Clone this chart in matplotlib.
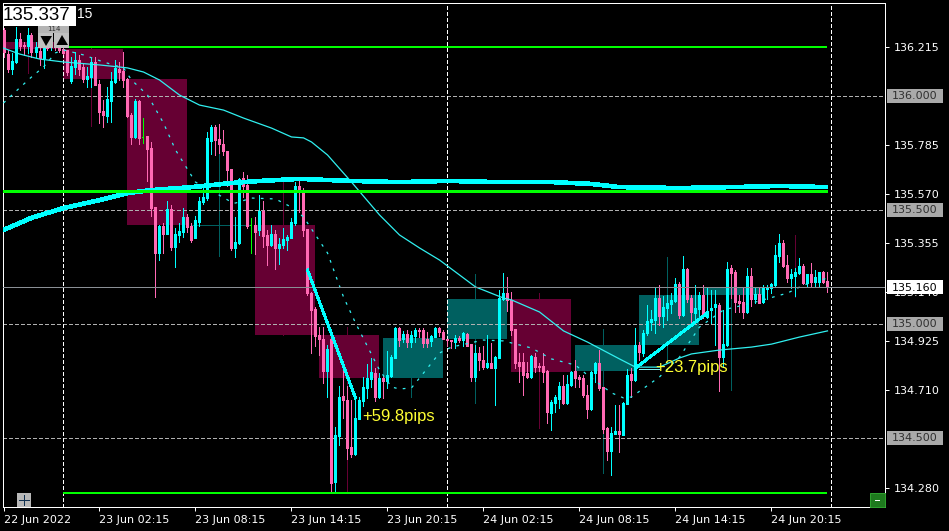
import numpy as np
import matplotlib
matplotlib.use('Agg')
import matplotlib.pyplot as plt
from matplotlib.patches import Rectangle, Polygon

W, H = 949, 531
# caja del grafico en pixeles
LEFT, RIGHT, TOP, BOTTOM = 3, 885, 3, 507

# velas M15, la primera es k=-15, filas de 10 velas
opens = [136.289,136.184,136.119,136.149,136.250,136.223,136.219,136.267,136.193,136.197,
 136.167,136.236,136.219,136.259,136.228,136.206,136.202,136.065,136.127,136.158,
 136.127,136.074,136.083,136.149,136.052,135.934,135.912,135.978,136.061,136.119,
 136.110,136.074,135.916,135.820,135.978,135.820,135.825,135.772,135.512,135.311,
 135.429,135.394,135.504,135.337,135.390,135.403,135.469,135.429,135.377,135.447,
 135.534,135.552,135.802,135.863,135.811,135.789,135.758,135.679,135.333,135.355,
 135.640,135.609,135.434,135.434,135.412,135.495,135.390,135.346,135.394,135.333,
 135.346,135.368,135.377,135.443,135.605,135.587,135.416,135.135,135.065,134.951,
 134.933,134.793,134.933,134.306,134.508,134.683,134.666,134.459,134.429,134.583,
 134.662,134.719,134.758,134.784,134.679,134.763,134.750,134.771,134.850,134.982,
 134.933,134.956,134.920,134.947,134.973,134.973,134.933,134.925,134.942,134.982,
 134.964,134.933,134.929,134.920,134.938,134.929,134.956,134.911,134.767,134.872,
 134.841,134.810,134.828,134.806,134.850,135.109,135.135,135.105,134.977,134.832,
 134.832,134.784,134.767,134.854,134.815,134.815,134.793,134.609,134.653,134.671,
 134.727,134.653,134.732,134.793,134.767,134.763,134.688,134.626,134.784,134.828,
 134.723,134.543,134.442,134.517,134.530,134.512,134.648,134.780,134.754,134.907,
 134.872,134.960,135.008,135.017,135.113,135.034,135.070,135.087,135.100,135.175,
 135.039,135.241,135.113,135.048,135.065,135.127,135.030,135.061,135.074,135.083,
 134.854,134.907,135.245,135.227,135.100,135.096,135.052,135.210,135.109,135.131,
 135.096,135.153,135.157,135.170,135.298,135.355,135.258,135.201,135.210,135.223,
 135.254,135.179,135.219,135.184,135.184,135.227,135.188]
highs = [136.298,136.202,136.189,136.302,136.276,136.236,136.298,136.276,136.236,136.215,
 136.276,136.267,136.259,136.280,136.245,136.210,136.202,136.171,136.193,136.180,
 136.145,136.127,136.167,136.171,136.070,135.982,136.039,136.105,136.158,136.149,
 136.193,136.079,135.925,135.987,135.982,135.903,135.825,135.798,135.512,135.434,
 135.443,135.539,135.521,135.421,135.443,135.508,135.482,135.443,135.473,135.556,
 135.600,135.842,135.872,135.872,135.876,135.851,135.758,135.679,135.469,135.640,
 135.666,135.653,135.465,135.469,135.565,135.539,135.412,135.434,135.412,135.377,
 135.421,135.390,135.465,135.622,135.644,135.596,135.416,135.140,135.074,134.986,
 134.986,134.907,134.933,134.547,134.727,134.828,134.727,134.666,134.666,134.679,
 134.767,134.824,134.850,134.806,134.784,134.775,134.881,134.863,134.986,134.986,
 134.969,134.973,134.969,134.982,134.982,134.982,134.964,134.951,134.986,134.986,
 134.973,134.933,134.929,134.951,134.947,134.964,134.960,134.911,134.907,134.898,
 134.903,134.951,134.916,134.859,135.148,135.223,135.205,135.140,134.977,134.872,
 134.872,134.832,134.863,134.872,134.828,134.872,134.797,134.666,134.688,134.745,
 134.775,134.775,134.793,134.841,134.775,134.775,134.732,134.793,134.832,134.885,
 134.723,134.547,134.547,134.644,134.644,134.657,134.802,134.806,134.982,134.920,
 134.973,135.083,135.061,135.162,135.170,135.122,135.127,135.135,135.201,135.184,
 135.298,135.245,135.127,135.170,135.140,135.170,135.162,135.148,135.148,135.091,
 135.061,135.271,135.258,135.236,135.127,135.162,135.245,135.245,135.162,135.162,
 135.170,135.170,135.179,135.346,135.394,135.368,135.302,135.241,135.245,135.289,
 135.263,135.219,135.267,135.236,135.227,135.232,135.227]
lows = [136.171,136.105,136.096,136.145,136.202,136.180,136.189,136.171,136.171,136.136,
 136.123,136.202,136.202,136.202,136.193,136.184,136.092,136.057,136.096,136.092,
 136.061,136.039,136.039,136.048,135.881,135.863,135.885,135.885,136.057,136.070,
 136.039,135.907,135.789,135.816,135.789,135.794,135.627,135.473,135.118,135.280,
 135.311,135.394,135.324,135.249,135.359,135.381,135.403,135.359,135.377,135.429,
 135.526,135.543,135.745,135.741,135.750,135.741,135.605,135.324,135.293,135.350,
 135.556,135.421,135.311,135.306,135.390,135.337,135.258,135.342,135.241,135.262,
 135.333,135.324,135.377,135.434,135.491,135.385,135.127,134.872,134.903,134.863,
 134.741,134.679,134.262,134.266,134.468,134.587,134.407,134.416,134.425,134.583,
 134.640,134.675,134.723,134.662,134.675,134.675,134.719,134.767,134.850,134.903,
 134.920,134.898,134.898,134.920,134.942,134.898,134.898,134.903,134.942,134.947,
 134.933,134.903,134.894,134.894,134.920,134.903,134.903,134.750,134.750,134.797,
 134.802,134.806,134.806,134.644,134.850,135.105,135.056,134.951,134.806,134.745,
 134.688,134.763,134.763,134.789,134.793,134.745,134.565,134.534,134.613,134.631,
 134.648,134.648,134.727,134.723,134.723,134.679,134.587,134.622,134.745,134.710,
 134.521,134.403,134.337,134.517,134.438,134.512,134.648,134.679,134.750,134.841,
 134.859,134.951,134.973,134.960,134.995,134.986,135.017,135.048,135.096,135.026,
 135.034,135.096,135.008,135.008,135.017,135.026,135.026,135.004,134.907,134.705,
 134.810,134.903,135.113,135.052,135.052,135.026,135.048,135.078,135.091,135.091,
 135.091,135.109,135.135,135.166,135.271,135.249,135.184,135.157,135.122,135.219,
 135.175,135.162,135.162,135.166,135.162,135.179,135.140]
closes = [136.193,136.119,136.154,136.250,136.219,136.219,136.267,136.193,136.215,136.167,
 136.215,136.210,136.245,136.215,136.202,136.189,136.105,136.132,136.158,136.119,
 136.074,136.087,136.149,136.048,135.929,135.916,135.987,136.065,136.123,136.105,
 136.070,135.912,135.820,135.978,135.816,135.820,135.767,135.508,135.311,135.429,
 135.394,135.504,135.337,135.394,135.407,135.469,135.425,135.368,135.456,135.539,
 135.556,135.816,135.863,135.807,135.789,135.758,135.675,135.333,135.359,135.636,
 135.605,135.429,135.434,135.403,135.495,135.385,135.346,135.394,135.333,135.350,
 135.372,135.381,135.447,135.605,135.587,135.412,135.135,135.061,134.947,134.933,
 134.793,134.889,134.302,134.512,134.679,134.666,134.455,134.429,134.587,134.666,
 134.723,134.763,134.789,134.679,134.763,134.750,134.775,134.854,134.982,134.929,
 134.956,134.920,134.951,134.973,134.969,134.916,134.916,134.947,134.982,134.964,
 134.933,134.929,134.925,134.938,134.929,134.960,134.903,134.767,134.872,134.841,
 134.810,134.828,134.806,134.854,135.113,135.135,135.105,134.973,134.828,134.815,
 134.775,134.767,134.859,134.810,134.810,134.789,134.613,134.657,134.679,134.727,
 134.653,134.736,134.789,134.763,134.758,134.688,134.626,134.789,134.828,134.719,
 134.539,134.442,134.521,134.530,134.517,134.653,134.775,134.754,134.907,134.876,
 134.960,135.013,135.021,135.113,135.034,135.074,135.091,135.105,135.175,135.039,
 135.241,135.109,135.052,135.070,135.127,135.034,135.056,135.070,135.087,134.854,
 134.911,135.241,135.223,135.096,135.091,135.052,135.210,135.109,135.131,135.091,
 135.157,135.162,135.175,135.302,135.355,135.254,135.201,135.219,135.227,135.254,
 135.179,135.219,135.184,135.205,135.227,135.184,135.162]

# velas H4 de fondo: inicio k, apertura, maximo, minimo, cierre
h4_start = [-16, 0, 16, 32, 48, 64, 80, 96, 112, 128, 144, 160, 176]
h4_open = [136.236,136.206,136.074,135.434,135.434,134.951,134.763,134.933,135.109,134.793,134.907,135.127,135.162]
h4_high = [136.298,136.210,136.079,135.763,135.640,134.986,134.938,135.219,135.135,134.977,135.293,135.162,135.390]
h4_low = [136.101,135.868,135.118,135.298,134.951,134.258,134.679,134.653,134.543,134.345,134.832,134.710,135.118]
h4_close = [136.206,136.074,135.434,135.434,134.951,134.763,134.938,135.109,134.789,134.907,135.127,135.162,135.157]

# medias moviles
slow_k = [-15,-8,0,9,16,22,32,35,42,49,59,72,84,96,109,122,132,139,154,167,179,191]
slow_p = [135.412,135.465,135.508,135.543,135.574,135.587,135.600,135.605,135.618,135.627,135.636,135.627,135.622,135.627,
 135.622,135.622,135.614,135.600,135.596,135.600,135.605,135.600]
mid_k = [-15,-11,-6,0,9,14,16,20,24,29,34,40,45,52,57,60,62,66,72,79,84,89,94,103,110,112,119,125,131,139,143,149,154,157,164,172,177,184,191]
mid_p = [136.210,136.184,136.162,136.149,136.136,136.127,136.123,136.105,136.070,136.004,135.960,135.938,135.903,135.859,
 135.820,135.816,135.798,135.741,135.622,135.478,135.390,135.333,135.280,135.162,135.113,135.105,135.052,134.969,134.920,
 134.846,134.810,134.810,134.850,134.868,134.885,134.898,134.911,134.942,134.969]
fast_k = [-15,-11,-8,-5,-2,0,5,10,15,17,21,25,28,33,38,42,43,47,53,57,60,66,70,73,79,82,84,87,90,94,97,105,110,117,122,128,131,137,140,142,149,154,159,165,172,181,185,191]
fast_p = [135.969,136.035,136.083,136.127,136.189,136.202,136.180,136.149,136.123,136.070,136.004,135.881,135.763,135.622,
 135.574,135.534,135.530,135.552,135.548,135.512,135.469,135.311,135.118,135.004,134.797,134.723,134.714,134.719,134.784,
 134.872,134.898,134.929,134.925,134.894,134.846,134.819,134.775,134.697,134.675,134.679,134.767,134.854,134.986,135.061,
 135.091,135.135,135.170,135.201]

# niveles y operaciones
level_top, level_mid, level_low = 136.213, 135.583, 134.256
round_levels = [136.0, 135.5, 135.0, 134.5]
bid = 135.16
trade1_k, trade1_p = [61, 73], [135.236, 134.675]
trade2_k, trade2_p = [143, 161], [134.806, 135.048]
connector_k, connector_p = [144, 149], [134.801, 134.801]
day_lines = [0, 96, 192]

price_ticks = [136.215, 135.785, 135.570, 135.355, 135.140, 134.925, 134.710, 134.280]
time_ticks = [-15, 9, 33, 57, 81, 105, 129, 153, 177]
time_labels = ['22 Jun 2022', '23 Jun 02:15', '23 Jun 08:15', '23 Jun 14:15', '23 Jun 20:15',
               '24 Jun 02:15', '24 Jun 08:15', '24 Jun 14:15', '24 Jun 20:15']

MAROON, TEAL = '#660033', '#006060'
CYAN, PINK, GREEN = '#00FFFF', '#FF69B4', '#00FF00'
THIN = '#30F0F0'
PX = 0.72  # un pixel en puntos a 100 dpi

fig = plt.figure(figsize=(W / 100, H / 100), dpi=100, facecolor='black')
ax = fig.add_axes([LEFT / W, 1 - BOTTOM / H, (RIGHT - LEFT) / W, (BOTTOM - TOP) / H], facecolor='black')
ax.set_xlim((LEFT - 63.5) / 4, (RIGHT - 63.5) / 4)
ax.set_ylim(136.421 - 0.004388 * BOTTOM, 136.421 - 0.004388 * TOP)

# fondo H4
for k0, o, hi, lo, c in zip(h4_start, h4_open, h4_high, h4_low, h4_close):
    col = TEAL if c >= o else MAROON
    ax.add_patch(Rectangle((k0 - 0.125, min(o, c)), 15, abs(c - o), fc=col, ec='none', zorder=1, antialiased=False))
    ax.vlines(k0 + 7, lo, hi, color=col, lw=PX, zorder=1, antialiased=False)
    if o == c:
        ax.hlines(o, k0 - 0.125, k0 + 14.875, color=TEAL, lw=PX, zorder=1, antialiased=False)

# rejilla
for p in round_levels:
    ax.axhline(p, color='#B0B0B0', lw=PX, dashes=(4, 2.5), zorder=2, antialiased=False)
for k in day_lines:
    ax.axvline(k, color='white', lw=PX, dashes=(3, 2.5), zorder=2, antialiased=False)

# velas
idx = np.arange(-15, 192)
o_arr, h_arr, l_arr, c_arr = map(np.array, (opens, highs, lows, closes))
up = c_arr > o_arr
down = c_arr < o_arr
flat = c_arr == o_arr
for mask, col in ((up, CYAN), (down, PINK), (flat, GREEN)):
    ax.vlines(idx[mask], l_arr[mask], h_arr[mask], color=col, lw=PX, zorder=3, antialiased=False)
for mask, col in ((up, CYAN), (down, PINK)):
    ax.vlines(idx[mask], np.minimum(o_arr, c_arr)[mask], np.maximum(o_arr, c_arr)[mask], color=col, lw=3 * PX,
              zorder=3, antialiased=False, capstyle='butt')
ax.hlines(o_arr[flat], idx[flat] - 0.4, idx[flat], color=GREEN, lw=PX, zorder=3, antialiased=False)

# medias y niveles
ax.plot(fast_k, fast_p, color=THIN, lw=0.9, dashes=(2.2, 5), zorder=4)
ax.plot(mid_k, mid_p, color=THIN, lw=0.9, zorder=4)
ax.plot(slow_k, slow_p, color=CYAN, lw=3.6 * PX, zorder=4, solid_capstyle='butt', antialiased=False)
ax.hlines(level_top, 0, 191, color=GREEN, lw=2 * PX, zorder=5, antialiased=False)
ax.hlines(level_low, 0, 191, color=GREEN, lw=2 * PX, zorder=5, antialiased=False)
ax.hlines(level_mid, -15.125, 191, color=GREEN, lw=3 * PX, zorder=5, antialiased=False)
ax.axhline(bid, color='#8A8F95', lw=PX, zorder=5, antialiased=False)

# operaciones
ax.plot(trade1_k, trade1_p, color=CYAN, lw=2 * PX, zorder=6, antialiased=False)
ax.plot(trade2_k, trade2_p, color=CYAN, lw=2 * PX, zorder=6, antialiased=False)
ax.plot(connector_k, connector_p, color='#7FF0F0', lw=PX, zorder=6, antialiased=False)
ax.text(74.7, 134.595, '+59.8pips', color='#FFFF33', family='Liberation Sans', fontsize=12, va='center', zorder=7)
ax.text(148, 134.810, '+23.7pips', color='#FFFF33', family='Liberation Sans', fontsize=12, va='center', zorder=7)

# ejes
for s in ax.spines.values():
    s.set_color('white')
    s.set_linewidth(PX)
ax.yaxis.tick_right()
ax.set_yticks(price_ticks)
ax.set_yticklabels([f'{p:.3f}' for p in price_ticks])
ax.set_xticks(time_ticks)
ax.set_xticklabels(time_labels, ha='left')
ax.tick_params(colors='white', length=3, width=PX, labelsize=8, pad=3)

# capa en pixeles para etiquetas y botones
ui = fig.add_axes([0, 0, 1, 1], facecolor='none', zorder=10)
ui.set_xlim(0, W)
ui.set_ylim(H, 0)
ui.axis('off')

def price_px(p):
    return (136.421 - p) / 0.004388

for p in round_levels:
    y = price_px(p)
    ui.add_patch(Rectangle((887, y - 7), 56, 14, fc='#A9A9A9', ec='none'))
    ui.text(892, y + 0.5, f'{p:.3f}', color='#303030', fontsize=8, va='center')
y = price_px(bid)
ui.add_patch(Rectangle((887, y - 7), 56, 14, fc='white', ec='none'))
ui.text(892, y + 0.5, f'{bid:.3f}', color='black', fontsize=8, va='center')

# precio actual arriba
ui.add_patch(Rectangle((3, 6), 73, 20, fc='white', ec='none'))
ui.text(3, 16, '135.337', color='black', family='Liberation Sans', fontsize=13.5, va='center')
ui.text(77.5, 13.5, '15', color='white', family='Liberation Sans', fontsize=10, va='center')

# botones
ui.add_patch(Rectangle((38.5, 25.7), 31, 7, fc='#B4B4B4', ec='none'))
ui.text(54, 29, '114', color='#303030', fontsize=5, ha='center', va='center')
ui.add_patch(Rectangle((38.5, 33), 15, 15, fc='#C0C0C0', ec='none'))
ui.add_patch(Rectangle((54.5, 33), 15, 15, fc='#C0C0C0', ec='none'))
ui.add_patch(Polygon([(40.5, 36), (52, 36), (46, 46)], fc='black'))
ui.add_patch(Polygon([(56.5, 45), (68, 45), (62, 35)], fc='black'))
ui.add_patch(Rectangle((17, 493), 14, 14, fc='#B8B8B8', ec='none'))
ui.plot([24, 24], [495, 505], color='#103050', lw=PX)
ui.plot([19, 29], [500, 500], color='#103050', lw=PX)
ui.add_patch(Rectangle((870, 492.5), 15, 14.5, fc='#1E7A1E', ec='#2EA02E', lw=PX))
ui.plot([875, 879], [500, 500], color='white', lw=PX)

fig.savefig('out.png', dpi=100, facecolor='black')
